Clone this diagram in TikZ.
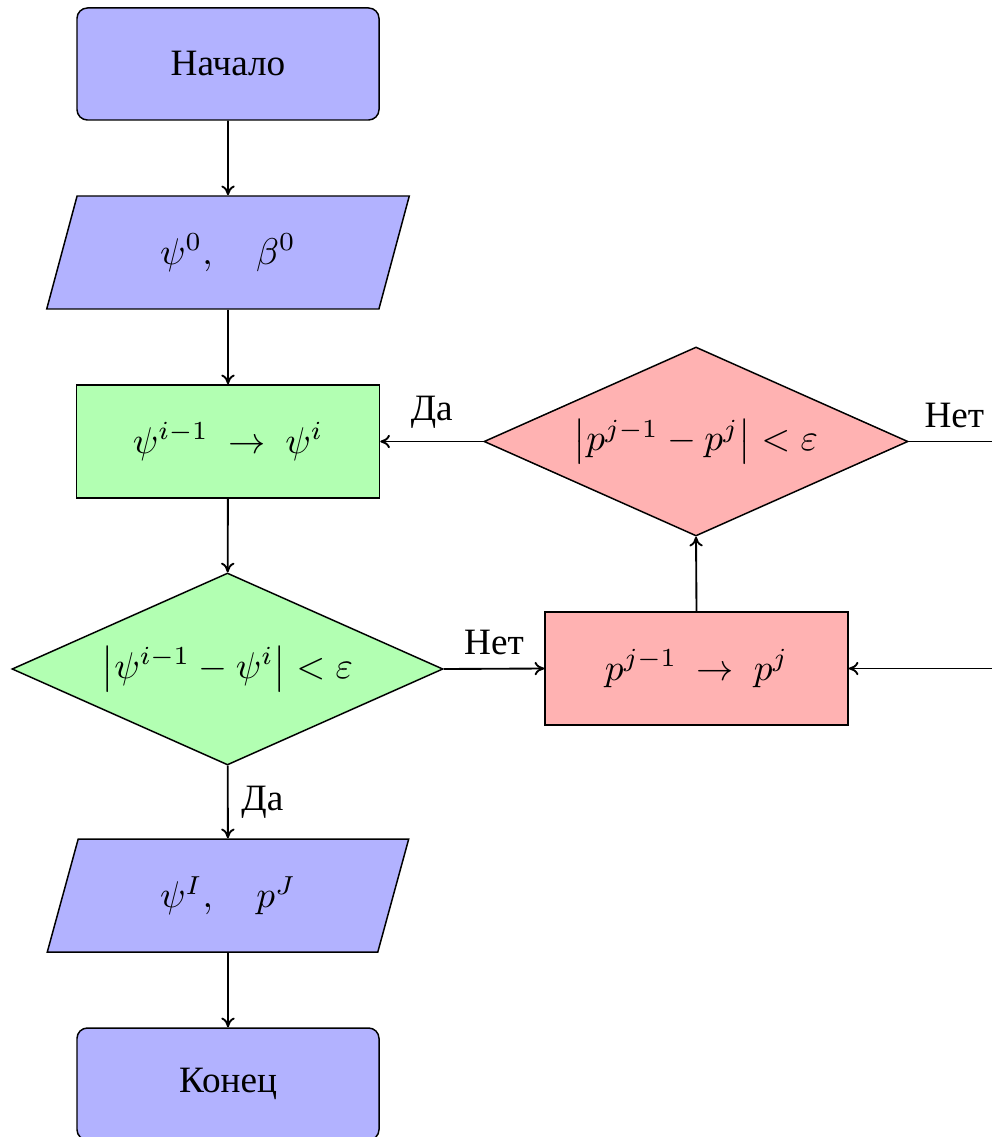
\documentclass[tikz,border=0pt]{standalone}
\usepackage{fontspec}
\setmainfont{Liberation Serif}
\newfontfamily\cyrserif{Liberation Serif}
\usetikzlibrary{shapes.geometric,arrows.meta}
\newcommand\pxu{0.2688}
\tikzset{
  every node/.style={font=\cyrserif},
  startstop/.style={rectangle, rounded corners=2.8pt, draw, fill=blue!30, minimum width={302*\pxu pt}, minimum height={112*\pxu pt}, inner sep=0pt},
  iobox/.style={trapezium, trapezium left angle=70, trapezium right angle=110, trapezium stretches=true, draw, fill=blue!30, minimum width={363*\pxu pt}, minimum height={113*\pxu pt}, inner sep=0pt},
  procbox/.style={rectangle, draw, minimum width={303*\pxu pt}, minimum height={113*\pxu pt}, inner sep=0pt},
  decbox/.style={diamond, aspect=2.24, draw, inner sep=0pt},
  conn/.style={-{To[length=2.6pt,width=3.6pt]}, line width=0.5pt},
  lbl/.style={inner sep=3.4pt},
}
\begin{document}
\begin{tikzpicture}[x=\pxu pt, y=-\pxu pt]
\useasboundingbox (0,0) rectangle (992,1137);
\node[startstop] (start) at (228,64) {Начало};
\node[iobox] (in) at (228,252.5) {$\psi^0,\quad \beta^0$};
\node[procbox, fill=green!30] (psi) at (228,441.5) {$\psi^{i-1}\ \to\ \psi^i$};
\node[decbox, fill=green!30, minimum width={431*\pxu pt}, minimum height={192*\pxu pt}] (dpsi) at (227.5,669) {$\left|\psi^{i-1}-\psi^i\right|<\varepsilon$};
\node[iobox] (out) at (228,895.5) {$\psi^I,\quad p^J$};
\node[startstop] (stop) at (228,1084) {Конец};
\node[procbox, fill=red!30] (p) at (696.5,668.5) {$p^{j-1}\ \to\ p^j$};
\node[decbox, fill=red!30, minimum width={424*\pxu pt}, minimum height={189*\pxu pt}] (dp) at (696,441.5) {$\left|p^{j-1}-p^j\right|<\varepsilon$};
\coordinate (c1) at (1000,441.5);
\coordinate (c2) at (1000,668.5);
\draw[conn] (start) -- (in);
\draw[conn] (in) -- (psi);
\draw[conn] (psi) -- (dpsi);
\draw[conn] (dpsi) -- node[lbl, right] {Да} (out);
\draw[conn] (out) -- (stop);
\draw[conn] (dpsi.east) -- node[lbl, above] {Нет} (p.west);
\draw[conn] (p.north) -- (dp.south);
\draw[conn] (dp.west) -- node[lbl, above] {Да} (psi.east);
\draw[conn] (dp.east) -- node[lbl, above] {Нет} (c1) -- (c2) -- (p.east);
\end{tikzpicture}
\end{document}
